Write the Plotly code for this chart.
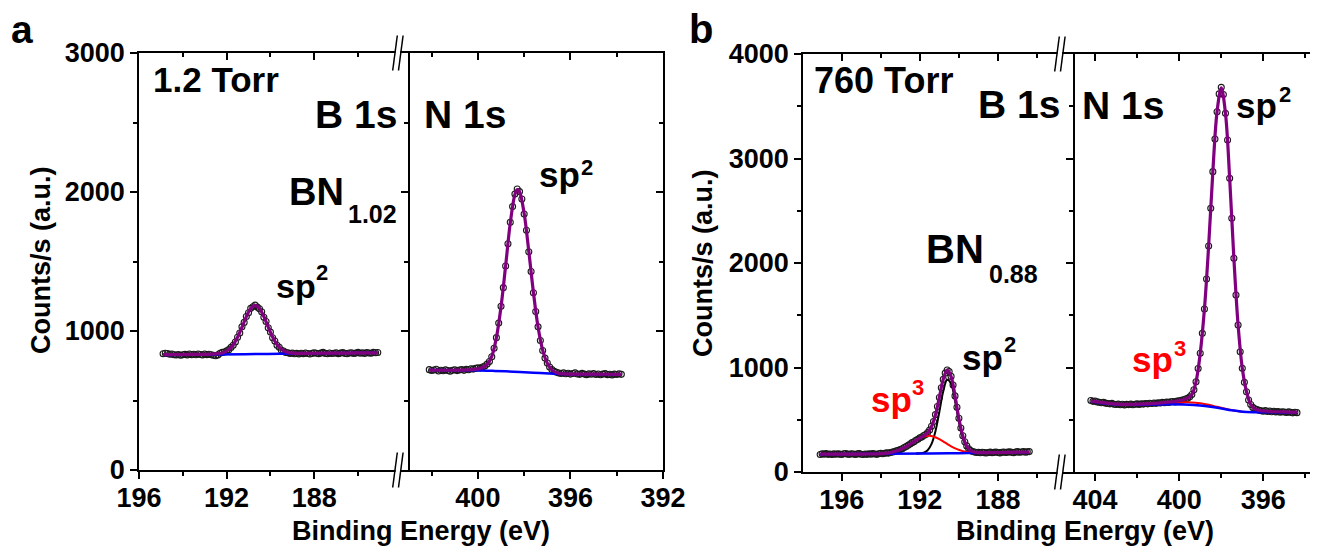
import plotly.graph_objects as go

# Reference picture size and the browser's default 8 px page margin
W_PAGE, H_PAGE = 1318, 546
PAGE_MARGIN = 8
W = W_PAGE - PAGE_MARGIN
H = H_PAGE - PAGE_MARGIN
FONT = "Liberation Sans, Arial, Helvetica, sans-serif"

# ----------------------------------------------------------------------------
# DATA
# ----------------------------------------------------------------------------
# Panel a (1.2 Torr) - B 1s
a_b1s_energy = [
    194.9, 194.8, 194.7, 194.6, 194.5, 194.4, 194.3, 194.2, 194.1, 194.0,
    193.9, 193.8, 193.7, 193.6, 193.5, 193.4, 193.3, 193.2, 193.1, 193.0,
    192.9, 192.8, 192.7, 192.6, 192.5, 192.4, 192.3, 192.2, 192.1, 192.0,
    191.9, 191.8, 191.7, 191.6, 191.5, 191.4, 191.3, 191.2, 191.1, 191.0,
    190.9, 190.8, 190.7, 190.6, 190.5, 190.4, 190.3, 190.2, 190.1, 190.0,
    189.9, 189.8, 189.7, 189.6, 189.5, 189.4, 189.3, 189.2, 189.1, 189.0,
    188.9, 188.8, 188.7, 188.6, 188.5, 188.4, 188.3, 188.2, 188.1, 188.0,
    187.9, 187.8, 187.7, 187.6, 187.5, 187.4, 187.3, 187.2, 187.1, 187.0,
    186.9, 186.8, 186.7, 186.6, 186.5, 186.4, 186.3, 186.2, 186.1, 186.0,
    185.9, 185.8, 185.7, 185.6, 185.5, 185.4, 185.3, 185.2, 185.1]
a_b1s_counts = [
    836, 840, 838, 833, 835, 829, 827, 831, 826, 829,
    832, 828, 834, 830, 833, 829, 835, 831, 828, 834,
    830, 833, 829, 826, 822, 828, 840, 846, 849, 857,
    866, 882, 898, 921, 955, 986, 1030, 1062, 1104, 1131,
    1163, 1175, 1186, 1172, 1160, 1138, 1099, 1068, 1023, 992,
    951, 928, 898, 883, 862, 856, 845, 843, 838, 841,
    836, 839, 835, 840, 837, 842, 838, 835, 839, 844,
    840, 837, 841, 846, 839, 836, 842, 838, 840, 843,
    837, 841, 845, 839, 836, 842, 844, 838, 841, 846,
    840, 843, 839, 845, 842, 840, 846, 843, 845]
a_b1s_fit_energy = [194.9, 194.0, 193.0, 192.5, 192.3, 192.1, 191.9, 191.7, 191.5,
                    191.3, 191.1, 190.9, 190.7, 190.5, 190.3, 190.1, 189.9, 189.7,
                    189.5, 189.3, 189.1, 188.8, 188.0, 187.0, 186.0, 185.1]
a_b1s_fit_counts = [830, 831, 832, 835, 839, 847, 866, 901, 955,
                    1027, 1103, 1162, 1184, 1162, 1104, 1028, 957, 903,
                    869, 851, 843, 839, 840, 841, 842, 843]
a_b1s_bg_energy = [194.9, 192.5, 190.7, 189.0, 185.1]
a_b1s_bg_counts = [828, 831, 834, 838, 843]

# Panel a (1.2 Torr) - N 1s
a_n1s_energy = [
    402.1, 402.0, 401.9, 401.8, 401.7, 401.6, 401.5, 401.4, 401.3, 401.2,
    401.1, 401.0, 400.9, 400.8, 400.7, 400.6, 400.5, 400.4, 400.3, 400.2,
    400.1, 400.0, 399.9, 399.8, 399.7, 399.6, 399.5, 399.4, 399.3, 399.2,
    399.1, 399.0, 398.9, 398.8, 398.7, 398.6, 398.5, 398.4, 398.3, 398.2,
    398.1, 398.0, 397.9, 397.8, 397.7, 397.6, 397.5, 397.4, 397.3, 397.2,
    397.1, 397.0, 396.9, 396.8, 396.7, 396.6, 396.5, 396.4, 396.3, 396.2,
    396.1, 396.0, 395.9, 395.8, 395.7, 395.6, 395.5, 395.4, 395.3, 395.2,
    395.1, 395.0, 394.9, 394.8, 394.7, 394.6, 394.5, 394.4, 394.3, 394.2,
    394.1, 394.0, 393.9, 393.8]
a_n1s_counts = [
    722, 716, 719, 725, 712, 718, 714, 720, 716, 711,
    718, 721, 715, 719, 723, 717, 724, 721, 728, 726,
    731, 736, 733, 741, 748, 762, 781, 815, 876, 952,
    1057, 1178, 1312, 1468, 1628, 1782, 1895, 1985, 2022, 2003,
    1950, 1842, 1725, 1570, 1428, 1275, 1140, 1030, 932, 860,
    805, 770, 741, 722, 710, 703, 698, 694, 699, 692,
    696, 690, 694, 699, 691, 688, 695, 690, 686, 692,
    689, 694, 687, 691, 685, 690, 693, 686, 689, 684,
    690, 687, 692, 688]
a_n1s_fit_energy = [402.1, 401.0, 400.3, 400.0, 399.8, 399.6, 399.4, 399.2, 399.0,
                    398.8, 398.6, 398.4, 398.3, 398.2, 398.0, 397.8, 397.6, 397.4,
                    397.2, 397.0, 396.8, 396.6, 396.3, 395.5, 394.5, 393.8]
a_n1s_fit_counts = [719, 718, 722, 728, 737, 760, 818, 952, 1175,
                    1470, 1778, 1983, 2018, 2002, 1845, 1574, 1278, 1028,
                    862, 768, 720, 700, 692, 690, 689, 688]
a_n1s_bg_energy = [402.1, 400.3, 399.3, 398.2, 397.3, 396.4, 393.8]
a_n1s_bg_counts = [720, 718, 713, 705, 697, 691, 689]

# Panel b (760 Torr) - B 1s
b_b1s_energy = [
    197.1, 197.0, 196.9, 196.8, 196.7, 196.6, 196.5, 196.4, 196.3, 196.2,
    196.1, 196.0, 195.9, 195.8, 195.7, 195.6, 195.5, 195.4, 195.3, 195.2,
    195.1, 195.0, 194.9, 194.8, 194.7, 194.6, 194.5, 194.4, 194.3, 194.2,
    194.1, 194.0, 193.9, 193.8, 193.7, 193.6, 193.5, 193.4, 193.3, 193.2,
    193.1, 193.0, 192.9, 192.8, 192.7, 192.6, 192.5, 192.4, 192.3, 192.2,
    192.1, 192.0, 191.9, 191.8, 191.7, 191.6, 191.5, 191.4, 191.3, 191.2,
    191.1, 191.0, 190.9, 190.8, 190.7, 190.6, 190.5, 190.4, 190.3, 190.2,
    190.1, 190.0, 189.9, 189.8, 189.7, 189.6, 189.5, 189.4, 189.3, 189.2,
    189.1, 189.0, 188.9, 188.8, 188.7, 188.6, 188.5, 188.4, 188.3, 188.2,
    188.1, 188.0, 187.9, 187.8, 187.7, 187.6, 187.5, 187.4, 187.3, 187.2,
    187.1, 187.0, 186.9, 186.8, 186.7, 186.6, 186.5, 186.4]
b_b1s_counts = [
    168, 174, 171, 176, 169, 172, 167, 173, 170, 175,
    171, 168, 174, 177, 171, 169, 175, 172, 168, 173,
    176, 170, 167, 172, 169, 174, 171, 176, 172, 169,
    175, 178, 174, 180, 183, 181, 187, 192, 195, 203,
    207, 216, 222, 235, 244, 256, 268, 281, 289, 304,
    314, 327, 335, 349, 359, 378, 401, 438, 483, 549,
    627, 713, 806, 886, 946, 976, 962, 915, 833, 728,
    620, 514, 421, 347, 289, 250, 222, 206, 196, 191,
    186, 188, 184, 189, 185, 182, 187, 190, 185, 188,
    192, 187, 183, 189, 191, 186, 190, 194, 188, 185,
    191, 195, 189, 192, 196, 190, 193, 195]
b_b1s_fit_energy = [197.1, 195.0, 194.0, 193.5, 193.0, 192.6, 192.2, 191.8, 191.6,
                    191.4, 191.2, 191.0, 190.8, 190.6, 190.4, 190.2, 190.0, 189.8,
                    189.6, 189.4, 189.2, 188.8, 187.5, 186.4]
b_b1s_fit_counts = [171, 172, 176, 186, 215, 255, 303, 347, 377,
                    436, 547, 715, 888, 974, 913, 729, 512, 345,
                    248, 205, 190, 185, 188, 191]
b_b1s_sp2_energy = [192.2, 192.0, 191.8, 191.6, 191.4, 191.2, 191.0, 190.8, 190.6,
                    190.4, 190.2, 190.0, 189.8, 189.6, 189.4, 189.2, 189.0]
b_b1s_sp2_counts = [177, 179, 185, 208, 269, 391, 577, 773, 883,
                    845, 681, 481, 325, 236, 199, 186, 183]
b_b1s_sp3_energy = [194.0, 193.6, 193.2, 192.8, 192.4, 192.0, 191.8, 191.55, 191.3,
                    191.0, 190.7, 190.4, 190.1, 189.8, 189.5, 189.2, 189.0]
b_b1s_sp3_counts = [179, 183, 201, 233, 279, 324, 339, 347, 340,
                    315, 281, 246, 219, 200, 190, 185, 184]
b_b1s_bg_energy = [197.1, 194.0, 191.5, 190.0, 188.5, 186.4]
b_b1s_bg_counts = [170, 174, 177, 180, 185, 190]

# Panel b (760 Torr) - N 1s
b_n1s_energy = [
    404.2, 404.1, 404.0, 403.9, 403.8, 403.7, 403.6, 403.5, 403.4, 403.3,
    403.2, 403.1, 403.0, 402.9, 402.8, 402.7, 402.6, 402.5, 402.4, 402.3,
    402.2, 402.1, 402.0, 401.9, 401.8, 401.7, 401.6, 401.5, 401.4, 401.3,
    401.2, 401.1, 401.0, 400.9, 400.8, 400.7, 400.6, 400.5, 400.4, 400.3,
    400.2, 400.1, 400.0, 399.9, 399.8, 399.7, 399.6, 399.5, 399.4, 399.3,
    399.2, 399.1, 399.0, 398.9, 398.8, 398.7, 398.6, 398.5, 398.4, 398.3,
    398.2, 398.1, 398.0, 397.9, 397.8, 397.7, 397.6, 397.5, 397.4, 397.3,
    397.2, 397.1, 397.0, 396.9, 396.8, 396.7, 396.6, 396.5, 396.4, 396.3,
    396.2, 396.1, 396.0, 395.9, 395.8, 395.7, 395.6, 395.5, 395.4, 395.3,
    395.2, 395.1, 395.0, 394.9, 394.8, 394.7, 394.6, 394.5, 394.4]
b_n1s_counts = [
    684, 676, 679, 671, 668, 663, 666, 659, 655, 652,
    657, 649, 646, 650, 644, 648, 642, 647, 645, 650,
    644, 649, 652, 647, 653, 650, 656, 652, 658, 655,
    661, 657, 663, 660, 666, 663, 669, 666, 672, 675,
    671, 678, 682, 687, 691, 698, 706, 719, 742, 787,
    864, 990, 1136, 1327, 1560, 1847, 2163, 2523, 2874, 3187,
    3448, 3618, 3681, 3612, 3432, 3177, 2810, 2428, 2045, 1694,
    1407, 1151, 992, 858, 768, 689, 646, 618, 604, 597,
    590, 586, 582, 588, 579, 584, 577, 581, 575, 579,
    572, 577, 574, 569, 575, 571, 566, 572, 568]
b_n1s_fit_energy = [404.2, 403.5, 402.8, 402.0, 401.0, 400.2, 399.8, 399.6, 399.4,
                    399.2, 399.0, 398.8, 398.6, 398.4, 398.2, 398.0, 397.8, 397.6,
                    397.4, 397.2, 397.0, 396.8, 396.6, 396.4, 396.0, 395.0, 394.4]
b_n1s_fit_counts = [680, 660, 647, 649, 660, 676, 692, 706, 740,
                    864, 1136, 1560, 2163, 2874, 3448, 3675, 3432, 2810,
                    2045, 1407, 992, 768, 646, 604, 584, 575, 570]
b_n1s_sp3_energy = [401.0, 400.5, 400.0, 399.7, 399.4, 399.0, 398.6, 398.2, 397.8,
                    397.4, 397.0, 396.6]
b_n1s_sp3_counts = [647, 653, 662, 667, 666, 657, 643, 624, 605, 589, 577, 573]
b_n1s_bg_energy = [404.2, 403.5, 402.8, 401.5, 400.5, 399.8, 399.0, 398.5, 398.0,
                   397.5, 397.0, 396.5, 395.5, 394.4]
b_n1s_bg_counts = [678, 656, 645, 645, 648, 645, 637, 625, 608, 590, 577, 572, 571, 568]

# Tick values
a_b1s_major = [196, 192, 188]
a_b1s_minor = [194, 190, 186]
a_n1s_major = [400, 396, 392]
a_n1s_minor = [402, 398, 394]
b_b1s_major = [196, 192, 188]
b_b1s_minor = [194, 190, 186]
b_n1s_major = [404, 400, 396]
b_n1s_minor = [402, 398, 394]
a_count_major = [0, 1000, 2000, 3000]
a_count_minor = [500, 1500, 2500]
b_count_major = [0, 1000, 2000, 3000, 4000]
b_count_minor = [500, 1500, 2500, 3500]

# ----------------------------------------------------------------------------
# LAYOUT HELPERS (pixel geometry of the reference, page coordinates)
# ----------------------------------------------------------------------------
def X(p):
    return (p - PAGE_MARGIN) / W


def Y(p):
    return 1 - (p - PAGE_MARGIN) / H


def ref(letter, i):
    return letter if i == 1 else f"{letter}{i}"


def akey(letter, i):
    return f"{letter}axis" if i == 1 else f"{letter}axis{i}"


PURPLE = "#800080"
BLUE = "#0000FF"
RED = "#FF0000"
MARK = "#1a1a1a"

subplots = {
    1: dict(xdom=(139, 408), ydom=(53, 470), xrange=[196, 183.72], yrange=[0, 3000],
            xmaj=a_b1s_major, xmin=a_b1s_minor, ymaj=a_count_major, ymin=a_count_minor,
            left=True, right=True),
    2: dict(xdom=(408, 663), ydom=(53, 470), xrange=[403.02, 392], yrange=[0, 3000],
            xmaj=a_n1s_major, xmin=a_n1s_minor, ymaj=a_count_major, ymin=a_count_minor,
            left=False, right=True),
    3: dict(xdom=(803, 1073), ydom=(54, 472), xrange=[197.98, 184.16], yrange=[0, 4000],
            xmaj=b_b1s_major, xmin=b_b1s_minor, ymaj=b_count_major, ymin=b_count_minor,
            left=True, right=True),
    4: dict(xdom=(1073, 1318), ydom=(54, 472), xrange=[405.05, 393.4], yrange=[0, 4000],
            xmaj=b_n1s_major, xmin=b_n1s_minor, ymaj=b_count_major, ymin=b_count_minor,
            left=False, right=False),
}

fig = go.Figure()


def add_points(i, e, c):
    fig.add_trace(go.Scatter(
        x=e, y=c, mode="markers", xaxis=ref("x", i), yaxis=ref("y", i),
        marker=dict(symbol="circle-open", size=6, color=MARK, line=dict(width=1.1, color=MARK)),
        showlegend=False, hoverinfo="skip"))


def add_line(i, e, c, color, width):
    fig.add_trace(go.Scatter(
        x=e, y=c, mode="lines", xaxis=ref("x", i), yaxis=ref("y", i),
        line=dict(color=color, width=width, shape="spline", smoothing=1.0),
        showlegend=False, hoverinfo="skip"))


# Panel a, B 1s
add_points(1, a_b1s_energy, a_b1s_counts)
add_line(1, a_b1s_bg_energy, a_b1s_bg_counts, BLUE, 2.5)
add_line(1, a_b1s_fit_energy, a_b1s_fit_counts, PURPLE, 3.2)
# Panel a, N 1s
add_points(2, a_n1s_energy, a_n1s_counts)
add_line(2, a_n1s_bg_energy, a_n1s_bg_counts, BLUE, 2.5)
add_line(2, a_n1s_fit_energy, a_n1s_fit_counts, PURPLE, 3.2)
# Panel b, B 1s
add_points(3, b_b1s_energy, b_b1s_counts)
add_line(3, b_b1s_sp2_energy, b_b1s_sp2_counts, "black", 2)
add_line(3, b_b1s_sp3_energy, b_b1s_sp3_counts, RED, 2)
add_line(3, b_b1s_bg_energy, b_b1s_bg_counts, BLUE, 2.5)
add_line(3, b_b1s_fit_energy, b_b1s_fit_counts, PURPLE, 3.2)
# Panel b, N 1s
add_points(4, b_n1s_energy, b_n1s_counts)
add_line(4, b_n1s_sp3_energy, b_n1s_sp3_counts, RED, 2)
add_line(4, b_n1s_bg_energy, b_n1s_bg_counts, BLUE, 2.5)
add_line(4, b_n1s_fit_energy, b_n1s_fit_counts, PURPLE, 3.2)

tickfont = dict(family=FONT, size=27, color="black", weight="bold")
common = dict(linecolor="black", linewidth=1.5, showgrid=False,
              zeroline=False, tickcolor="black", tickwidth=1.5, ticklen=7,
              tickfont=tickfont, automargin=False)

layout_axes = {}
for i, s in subplots.items():
    j = i + 4
    xdom = [X(s["xdom"][0]), min(1.0, X(s["xdom"][1]))]
    ydom = [Y(s["ydom"][1]), Y(s["ydom"][0])]
    # bottom axis with labels, outward ticks
    layout_axes[akey("x", i)] = dict(
        domain=xdom, range=s["xrange"], anchor=ref("y", i), side="bottom", showline=True,
        ticks="outside", tickmode="array", tickvals=s["xmaj"], showticklabels=True,
        ticklabelstandoff=-4,
        minor=dict(tickmode="array", tickvals=s["xmin"], ticks="outside", ticklen=4,
                   tickwidth=1.5, tickcolor="black"),
        **common)
    # left axis (the right-hand subplots share the frame line of their neighbour)
    if s["left"]:
        layout_axes[akey("y", i)] = dict(
            domain=ydom, range=s["yrange"], anchor=ref("x", i), side="left", showline=True,
            ticks="outside", tickmode="array", tickvals=s["ymaj"], showticklabels=True,
            minor=dict(tickmode="array", tickvals=s["ymin"], ticks="outside", ticklen=4,
                       tickwidth=1.5, tickcolor="black"),
            **common)
    else:
        layout_axes[akey("y", i)] = dict(
            domain=ydom, range=s["yrange"], anchor=ref("x", i), side="left", showline=False,
            ticks="", showticklabels=False, **common)
    # top mirror axis, inward ticks
    layout_axes[akey("x", j)] = dict(
        overlaying=ref("x", i), anchor=ref("y", j), side="top", range=s["xrange"],
        showline=True, ticks="inside", tickmode="array", tickvals=s["xmaj"],
        showticklabels=False,
        minor=dict(tickmode="array", tickvals=s["xmin"], ticks="inside", ticklen=4,
                   tickwidth=1.5, tickcolor="black"),
        **common)
    # right mirror axis, inward ticks
    if s["right"]:
        layout_axes[akey("y", j)] = dict(
            overlaying=ref("y", i), anchor=ref("x", j), side="right", range=s["yrange"],
            showline=True, ticks="inside", tickmode="array", tickvals=s["ymaj"],
            showticklabels=False,
            minor=dict(tickmode="array", tickvals=s["ymin"], ticks="inside", ticklen=4,
                       tickwidth=1.5, tickcolor="black"),
            **common)
    else:
        layout_axes[akey("y", j)] = dict(
            overlaying=ref("y", i), anchor=ref("x", j), side="right", range=s["yrange"],
            showline=False, ticks="", showticklabels=False, showgrid=False,
            zeroline=False, automargin=False)
    fig.add_trace(go.Scatter(x=[], y=[], xaxis=ref("x", j), yaxis=ref("y", j),
                             showlegend=False, hoverinfo="skip"))

# ----------------------------------------------------------------------------
# TEXT
# ----------------------------------------------------------------------------
annotations = []


def label(text, x_px, baseline_px, size, color="black", xanchor="left"):
    annotations.append(dict(
        text=text, xref="paper", yref="paper", x=X(x_px),
        y=Y(baseline_px + 0.212 * size + 2), xanchor=xanchor, yanchor="bottom",
        showarrow=False, font=dict(family=FONT, size=size, color=color, weight="bold")))


label("a", 9, 43, 39)
label("b", 687, 43, 40)
label("1.2 Torr", 151, 92, 35)
label("B 1s", 399, 128, 39, xanchor="right")
label("N 1s", 422, 128, 39)
label("BN", 287, 205, 38)
label("1.02", 346, 223, 25)
label("sp", 274, 298, 34)
label("2", 314, 280, 22)
label("sp", 537, 187, 35)
label("2", 579, 175, 22)

label("760 Torr", 812, 93, 36)
label("B 1s", 1062, 118, 39, xanchor="right")
label("N 1s", 1080, 119, 39)
label("sp", 1234, 118, 35)
label("2", 1277, 102, 22)
label("BN", 924, 263, 40)
label("0.88", 987, 283, 25)
label("sp", 960, 370, 35)
label("2", 1002, 352, 22)
label("sp", 869, 412, 35, color=RED)
label("3", 910, 395, 22, color=RED)
label("sp", 1130, 372, 35, color=RED)
label("3", 1172, 356, 22, color=RED)

for cx in (421, 1085):
    annotations.append(dict(
        text="Binding Energy (eV)", xref="paper", yref="paper", x=X(cx),
        y=Y(540 + 0.212 * 27 + 2), xanchor="center", yanchor="bottom", showarrow=False,
        font=dict(family=FONT, size=27, color="black", weight="bold")))
for cx, cy in ((41, 260), (703, 263)):
    annotations.append(dict(
        text="Counts/s (a.u.)", xref="paper", yref="paper", x=X(cx), y=Y(cy),
        xanchor="center", yanchor="middle", textangle=-90, showarrow=False,
        font=dict(family=FONT, size=27, color="black", weight="bold")))

# ----------------------------------------------------------------------------
# AXIS BREAK MARKS "//"
# ----------------------------------------------------------------------------
shapes = []
for xc, ytop, ybot in ((398, 53, 470), (1060, 54, 472)):
    for ya in (ytop, ybot):
        shapes.append(dict(type="rect", xref="paper", yref="paper",
                           x0=X(xc - 2.4), x1=X(xc + 2.2), y0=Y(ya + 3), y1=Y(ya - 3),
                           fillcolor="white", line=dict(width=0), layer="above"))
        for off in (-3.0, 2.8):
            shapes.append(dict(type="line", xref="paper", yref="paper",
                               x0=X(xc + off - 2.3), y0=Y(ya + 17.5),
                               x1=X(xc + off + 2.3), y1=Y(ya - 17.5),
                               line=dict(color="black", width=1.5), layer="above"))

fig.update_layout(
    template="none",
    width=W, height=H, autosize=False,
    margin=dict(l=0, r=0, t=0, b=0, pad=0),
    paper_bgcolor="white", plot_bgcolor="white",
    font=dict(family=FONT, color="black"),
    showlegend=False, hovermode=False,
    annotations=annotations, shapes=shapes,
    **layout_axes)

fig.write_html("out.html")
